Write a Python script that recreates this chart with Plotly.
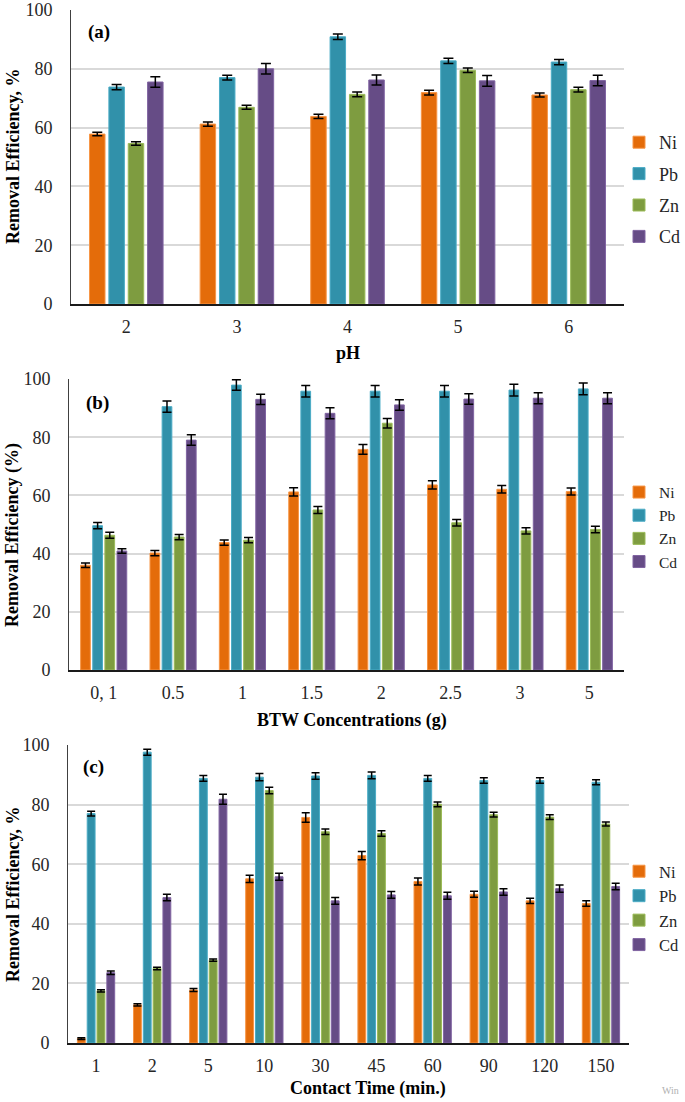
import plotly.graph_objects as go

# (a) effect of pH
ph = ["2", "3", "4", "5", "6"]
ni_ph = [57.8, 61.2, 63.8, 71.9, 71.1]
pb_ph = [73.8, 77.0, 90.9, 82.7, 82.3]
zn_ph = [54.6, 66.9, 71.3, 79.5, 72.9]
cd_ph = [75.5, 80.0, 76.2, 75.9, 76.0]
ni_ph_err = [0.6, 0.7, 0.7, 0.8, 0.7]
pb_ph_err = [0.9, 0.8, 0.9, 0.9, 0.9]
zn_ph_err = [0.6, 0.7, 0.8, 0.8, 0.8]
cd_ph_err = [1.8, 1.8, 1.7, 1.8, 1.8]

# (b) effect of BTW dose
dose = ["0, 1", "0.5", "1", "1.5", "2", "2.5", "3", "5"]
ni_dose = [36.0, 40.2, 43.8, 61.2, 75.8, 63.6, 62.1, 61.3]
pb_dose = [49.6, 90.5, 97.9, 95.8, 95.8, 95.8, 96.2, 96.6]
zn_dose = [46.3, 45.7, 44.6, 55.0, 84.8, 50.6, 47.8, 48.3]
cd_dose = [40.9, 79.0, 93.0, 88.2, 91.1, 93.1, 93.4, 93.4]
ni_dose_err = [0.8, 0.9, 0.9, 1.4, 1.7, 1.4, 1.3, 1.2]
pb_dose_err = [1.1, 1.9, 1.8, 2.0, 2.0, 2.0, 2.0, 2.0]
zn_dose_err = [1.0, 0.9, 0.9, 1.2, 1.6, 1.1, 1.1, 1.1]
cd_dose_err = [0.8, 1.8, 1.8, 1.9, 1.8, 1.8, 1.9, 1.9]

# (c) effect of contact time
time = ["1", "2", "5", "10", "30", "45", "60", "90", "120", "150"]
ni_time = [1.5, 12.8, 17.8, 55.1, 75.7, 62.9, 54.2, 49.9, 47.7, 46.8]
pb_time = [77.0, 97.6, 88.8, 89.2, 89.6, 89.8, 88.8, 88.1, 88.1, 87.5]
zn_time = [17.5, 25.0, 27.8, 84.7, 70.9, 70.3, 80.1, 76.6, 75.8, 73.5]
cd_time = [23.6, 48.8, 81.8, 55.8, 47.7, 49.7, 49.4, 50.7, 51.8, 52.5]
ni_time_err = [0.3, 0.4, 0.5, 1.2, 1.6, 1.4, 1.2, 1.0, 0.9, 0.9]
pb_time_err = [0.8, 1.0, 1.0, 1.2, 1.1, 1.1, 1.0, 0.9, 0.9, 0.8]
zn_time_err = [0.35, 0.4, 0.4, 1.1, 0.9, 0.9, 0.8, 0.8, 0.8, 0.7]
cd_time_err = [0.6, 1.1, 1.7, 1.2, 1.1, 1.1, 1.2, 1.1, 1.2, 1.1]

metals = ["Ni", "Pb", "Zn", "Cd"]
fill = ["#E46C0A", "#3191AA", "#7E9C40", "#664C86"]
edge = ["#F79646", "#4BACC6", "#9BBB59", "#8064A2"]

FONT = "Liberation Serif"
TXT = "#262626"
W, H = 685, 1102


def px(x):
    return x / W


def py(y):
    return 1 - y / H


fig = go.Figure()


def add_panel(n, cats, series, errs, cap):
    xa = "x" if n == 1 else "x%d" % n
    ya = "y" if n == 1 else "y%d" % n
    lg = "legend" if n == 1 else "legend%d" % n
    for i, m in enumerate(metals):
        fig.add_trace(go.Bar(
            x=cats, y=series[i], name=m,
            xaxis=xa, yaxis=ya, legend=lg, legendgroup="%s%d" % (m, n),
            marker=dict(color=fill[i], line=dict(color=edge[i], width=1)),
            error_y=dict(type="data", array=errs[i], color="black",
                         thickness=1.5, width=cap),
        ))


add_panel(1, ph, [ni_ph, pb_ph, zn_ph, cd_ph],
          [ni_ph_err, pb_ph_err, zn_ph_err, cd_ph_err], 5)
add_panel(2, dose, [ni_dose, pb_dose, zn_dose, cd_dose],
          [ni_dose_err, pb_dose_err, zn_dose_err, cd_dose_err], 4.5)
add_panel(3, time, [ni_time, pb_time, zn_time, cd_time],
          [ni_time_err, pb_time_err, zn_time_err, cd_time_err], 4)

# pixel boxes of the three plot areas (left, right, top, bottom)
boxes = [(71, 624, 10, 304), (69, 624, 379, 670), (68, 629, 745, 1043)]

lay = dict(
    width=W, height=H,
    margin=dict(l=0, r=0, t=0, b=0, autoexpand=False),
    paper_bgcolor="white", plot_bgcolor="white",
    font=dict(family=FONT, size=18, color=TXT),
    barmode="group", bargap=0.3, bargroupgap=0.2,
)
for n, (l, r, t, b) in enumerate(boxes, start=1):
    sfx = "" if n == 1 else str(n)
    lay["xaxis" + sfx] = dict(
        domain=[px(l), px(r)], anchor="y" + sfx, type="category",
        automargin=False,
        showline=True, linecolor="#1a1a1a", linewidth=1.5,
        showgrid=False, ticks="", ticklabelstandoff=6,
        tickfont=dict(family=FONT, size=18, color=TXT),
    )
    lay["yaxis" + sfx] = dict(
        domain=[py(b), py(t)], anchor="x" + sfx,
        automargin=False,
        range=[0, 100], dtick=20, zeroline=False,
        showline=True, linecolor="#404040", linewidth=1,
        showgrid=True, gridcolor="#D9D9D9", gridwidth=1.5,
        ticks="", ticklabelstandoff=14,
        tickfont=dict(family=FONT, size=18, color=TXT),
    )

# one legend per panel
legend_font = [18, 15.5, 16.5]
legend_mid = [189.5, 527, 908]
legend_gap = [5, 0, 0]
for n in range(3):
    key = "legend" if n == 0 else "legend%d" % (n + 1)
    lay[key] = dict(x=px(619), xanchor="left", y=py(legend_mid[n]),
                    yanchor="middle", tracegroupgap=legend_gap[n],
                    font=dict(family=FONT, size=legend_font[n], color=TXT),
                    bgcolor="rgba(0,0,0,0)")
fig.update_layout(**lay)


def note(text, x, y, size=18, bold=True, angle=0, color="black"):
    if bold:
        text = "<b>%s</b>" % text
    fig.add_annotation(text=text, xref="paper", yref="paper",
                       x=px(x), y=py(y), xanchor="center", yanchor="middle",
                       showarrow=False, textangle=angle,
                       font=dict(family=FONT, size=size, color=color))


# axis titles
note("Removal Efficiency, %", 13, 157, angle=-90)
note("Removal Efficiency (%)", 13, 535, angle=-90)
note("Removal Efficiency, %", 13, 895, angle=-90)
note("pH", 348, 353)
note("BTW Concentrations (g)", 352, 720)
note("Contact Time (min.)", 368, 1088)

# panel tags
note("(a)", 99, 32, size=19)
note("(b)", 97, 403, size=19)
note("(c)", 93, 767, size=19)

note("Win", 670, 1090, size=10, bold=False, color="#B0B0B0")

# drop the default 8px page margin so the figure sits at the window corner
fig.write_html("out.html", config={"displayModeBar": False},
               post_script="document.body.style.margin = '0';")
